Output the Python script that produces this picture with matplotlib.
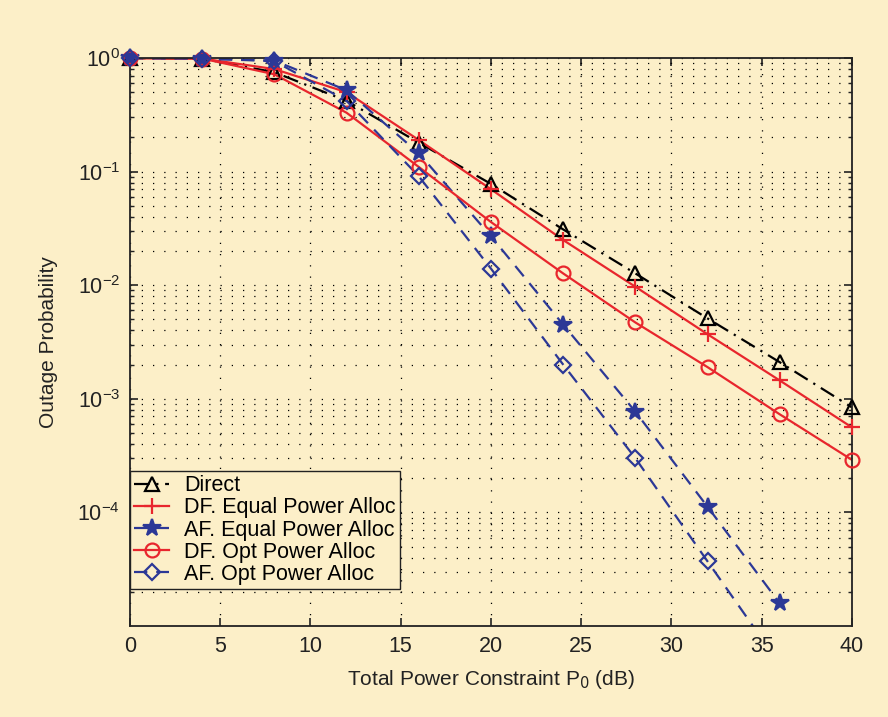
import numpy as np
import matplotlib
matplotlib.use("Agg")
from matplotlib import pyplot as plt

plt.rcParams['font.family'] = ['Liberation Sans', 'DejaVu Sans']

power_db = [0, 4, 8, 12, 16, 20, 24, 28, 32, 36, 40]
direct = [1.0, 0.99, 0.75, 0.42, 0.18, 0.078, 0.031, 0.0127, 0.0051, 0.0021, 0.00084]
df_equal = [1.0, 0.99, 0.80, 0.50, 0.19, 0.070, 0.025, 0.0097, 0.0037, 0.00145, 0.00056]
df_opt = [1.0, 0.99, 0.72, 0.33, 0.11, 0.036, 0.0127, 0.0047, 0.0019, 0.00073, 0.00029]
af_power = [0, 4, 8, 12, 16, 20, 24, 28, 32, 36]
af_equal = [1.0, 0.99, 0.95, 0.52, 0.145, 0.027, 0.0045, 0.00077, 0.000112, 1.58e-5]
af_opt = [1.0, 0.99, 0.94, 0.42, 0.091, 0.014, 0.0020, 0.00030, 3.7e-5, 4.6e-6]

bg = '#fcefc8'
red = '#e8262d'
blue = '#2c3896'
ymin, ymax = 1e-5, 1

fig = plt.figure(figsize=(8.88, 7.17), dpi=100, facecolor=bg)
ax = fig.add_axes([0.1464, 0.127, 0.813, 0.792])
ax.set_facecolor(bg)


def curve(x, y, color, ls, marker, ms, mfc, label):
    x = np.asarray(x, dtype=float)
    y = np.asarray(y, dtype=float)
    # line is clipped to the axes, markers are not (matlab style)
    ax.plot(x, y, color=color, linestyle=ls, linewidth=1.6)
    inside = y >= ymin
    ax.plot(x[inside], y[inside], linestyle='none', marker=marker, markersize=ms,
            color=color, markerfacecolor=mfc, markeredgewidth=1.6, clip_on=False, zorder=3)
    ax.plot([], [], color=color, linestyle=ls, linewidth=1.6, marker=marker, markersize=ms,
            markerfacecolor=mfc, markeredgewidth=1.6, label=label)


curve(power_db, direct, 'black', (0, (7, 3, 1, 3)), '^', 10, 'none', 'Direct')
curve(power_db, df_equal, red, '-', '+', 12, red, 'DF. Equal Power Alloc')
curve(af_power, af_equal, blue, (0, (6, 4)), '*', 13, blue, 'AF. Equal Power Alloc')
curve(power_db, df_opt, red, '-', 'o', 10, 'none', 'DF. Opt Power Alloc')
curve(af_power, af_opt, blue, (0, (6, 4)), 'D', 8, 'none', 'AF. Opt Power Alloc')

ax.set_yscale('log')
ax.set_xlim(0, 40)
ax.set_ylim(ymin, ymax)
ax.set_xticks(range(0, 41, 5))
ax.set_yticks([1e-4, 1e-3, 1e-2, 1e-1, 1e0])
ax.tick_params(axis='both', which='both', direction='in', labelsize=15.5, colors='#222222',
               top=True, right=True)
ax.tick_params(which='major', length=6, width=1.2, pad=7)
ax.tick_params(which='minor', length=3, width=1)
ax.grid(True, which='major', linestyle=(0, (1, 8)), color='black', linewidth=0.9)
ax.grid(True, which='minor', axis='y', linestyle=(0, (1, 8)), color='black', linewidth=0.9)
for s in ax.spines.values():
    s.set_linewidth(1.3)
    s.set_color('#222222')

ax.set_xlabel('Total Power Constraint P$_0$ (dB)', fontsize=15, color='#222222', labelpad=8)
ax.set_ylabel('Outage Probability', fontsize=15, color='#222222', labelpad=14)

leg = ax.legend(loc='lower left', bbox_to_anchor=(0.0, 0.065), fontsize=15.5, frameon=True,
                fancybox=False, edgecolor='#222222', facecolor=bg, framealpha=1,
                borderpad=0.2, labelspacing=0.05, handlelength=1.6, handletextpad=0.7,
                borderaxespad=0.0)
leg.get_frame().set_linewidth(1.0)

fig.savefig('out.png', dpi=100, facecolor=bg)
